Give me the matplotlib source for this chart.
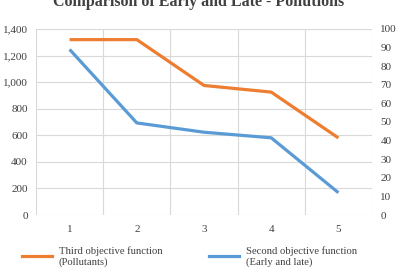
import matplotlib
matplotlib.use('Agg')
import matplotlib.pyplot as plt
from matplotlib.lines import Line2D

# data
runs = [1, 2, 3, 4, 5]
pollutants = [1320, 1320, 975, 925, 580]       # left axis
early_late = [89, 49.5, 44.5, 41.5, 12]        # right axis

ORANGE = '#ED7D31'
BLUE = '#5B9BD5'
GRID = '#d9d9d9'
TXT = '#404040'

plt.rcParams['font.family'] = ['Liberation Serif', 'DejaVu Serif']

fig = plt.figure(figsize=(3.98, 2.70), dpi=100)
ax = fig.add_axes([0.0905, 0.2037, 0.8442, 0.6889])
ax2 = ax.twinx()

ax.plot(runs, pollutants, color=ORANGE, lw=2.3, solid_capstyle='butt')
ax2.plot(runs, early_late, color=BLUE, lw=2.3, solid_capstyle='butt')

ax.set_xlim(0.5, 5.5)
ax.set_ylim(0, 1400)
ax2.set_ylim(0, 100)
ax.set_yticks(range(0, 1401, 200))
ax.set_yticklabels([f'{v:,}' for v in range(0, 1401, 200)])
ax2.set_yticks(range(0, 101, 10))
ax.set_xticks(runs)
ax.set_xticks([0.5, 1.5, 2.5, 3.5, 4.5, 5.5], minor=True)

ax.grid(True, which='minor', axis='x', color=GRID, lw=0.8)
ax.grid(True, which='major', axis='y', color=GRID, lw=0.8)
ax.set_axisbelow(True)
for a in (ax, ax2):
    for s in a.spines.values():
        s.set_visible(False)
ax.tick_params(which='both', length=0, labelsize=8, colors=TXT)
ax.tick_params(axis='x', pad=7)
ax.tick_params(axis='y', pad=6)
ax2.tick_params(length=0, labelsize=8, colors=TXT, pad=6)

fig.text(0.5, 1 - 6 / 270, 'Comparison of Early and Late - Pollutions',
         ha='center', va='baseline', fontsize=11.5, fontweight='bold', color=TXT)

handles = [Line2D([], [], color=ORANGE, lw=2.3),
           Line2D([], [], color=BLUE, lw=2.3)]
labels = ['Third objective function\n(Pollutants)',
          'Second objective function\n(Early and late)']
fig.legend(handles, labels, ncol=2, loc='lower left',
           bbox_to_anchor=(0.03, -0.025), frameon=False, fontsize=7.7,
           handlelength=2.8, handletextpad=0.7, columnspacing=4.3,
           labelcolor=TXT)

fig.savefig('out.png', dpi=100)
